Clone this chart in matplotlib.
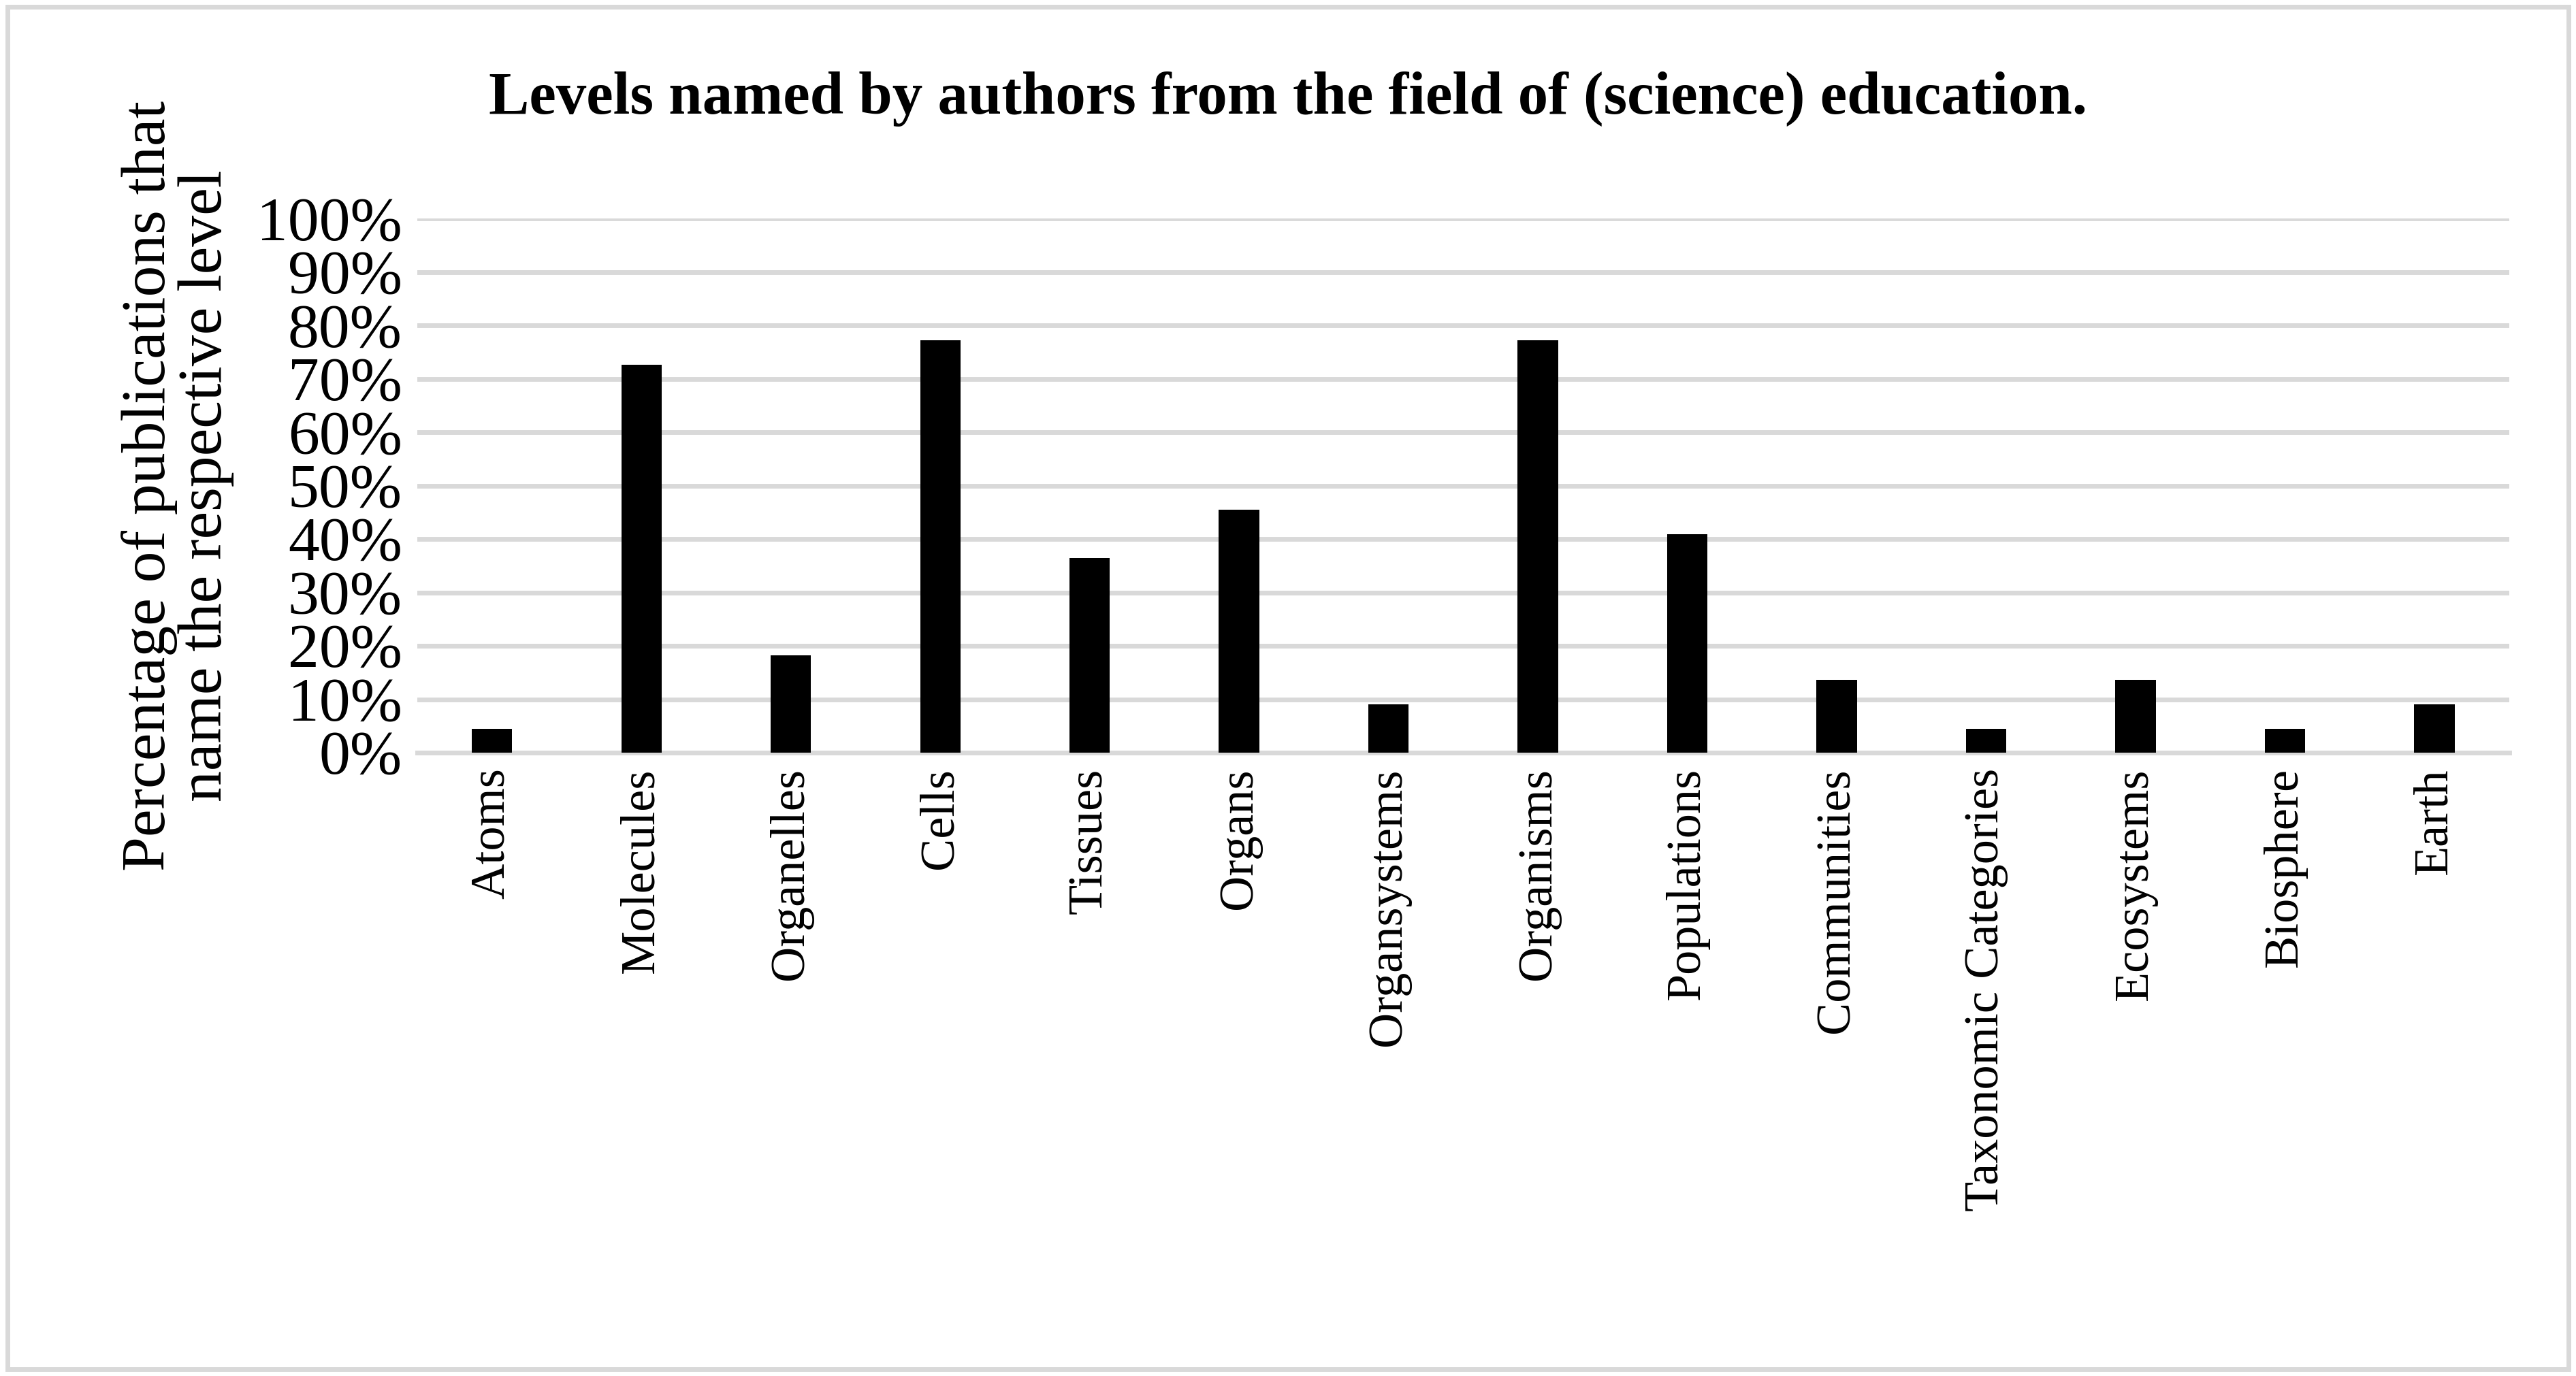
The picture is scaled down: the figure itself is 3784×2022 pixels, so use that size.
import matplotlib.pyplot as plt
from matplotlib.patches import Rectangle
import numpy as np

levels = ["Atoms", "Molecules", "Organelles", "Cells", "Tissues", "Organs",
          "Organsystems", "Organisms", "Populations", "Communities",
          "Taxonomic Categories", "Ecosystems", "Biosphere", "Earth"]
percent = [4.5, 72.7, 18.2, 77.3, 36.4, 45.5, 9.1, 77.3, 40.9, 13.6,
           4.5, 13.6, 4.5, 9.1]

plt.rcParams['font.family'] = ['Liberation Serif', 'DejaVu Serif']

fig = plt.figure(figsize=(18.92, 10.11), dpi=200)
ax = fig.add_axes([0.162, 0.453, 0.812, 0.388])

x = np.arange(len(levels))
ax.bar(x, percent, width=0.27, color='black', zorder=3)
ax.set_xlim(-0.5, len(levels) - 0.5)
ax.set_ylim(0, 100)
ax.set_yticks(np.arange(0, 101, 10))
ax.set_yticklabels([f"{v}%" for v in range(0, 101, 10)], fontsize=33)
ax.set_xticks(x)
ax.set_xticklabels(levels, rotation=90, fontsize=26)
ax.grid(axis='y', color='#d9d9d9', linewidth=2.5, zorder=0)
for s in ['top', 'right', 'left']:
    ax.spines[s].set_visible(False)
ax.spines['bottom'].set_color('#d9d9d9')
ax.spines['bottom'].set_linewidth(2.5)
ax.tick_params(length=0, pad=8)
ax.set_ylabel("Percentage of publications that\nname the respective level",
              fontsize=33, labelpad=12, linespacing=1.0)

fig.text(0.5, 0.928, "Levels named by authors from the field of (science) education.",
         ha='center', va='center', fontsize=32, fontweight='bold')
fig.patches.append(Rectangle((0.003, 0.005), 0.994, 0.99, transform=fig.transFigure,
                             fill=False, edgecolor='#d9d9d9', linewidth=2.5))

fig.savefig("out.png", dpi=200)
